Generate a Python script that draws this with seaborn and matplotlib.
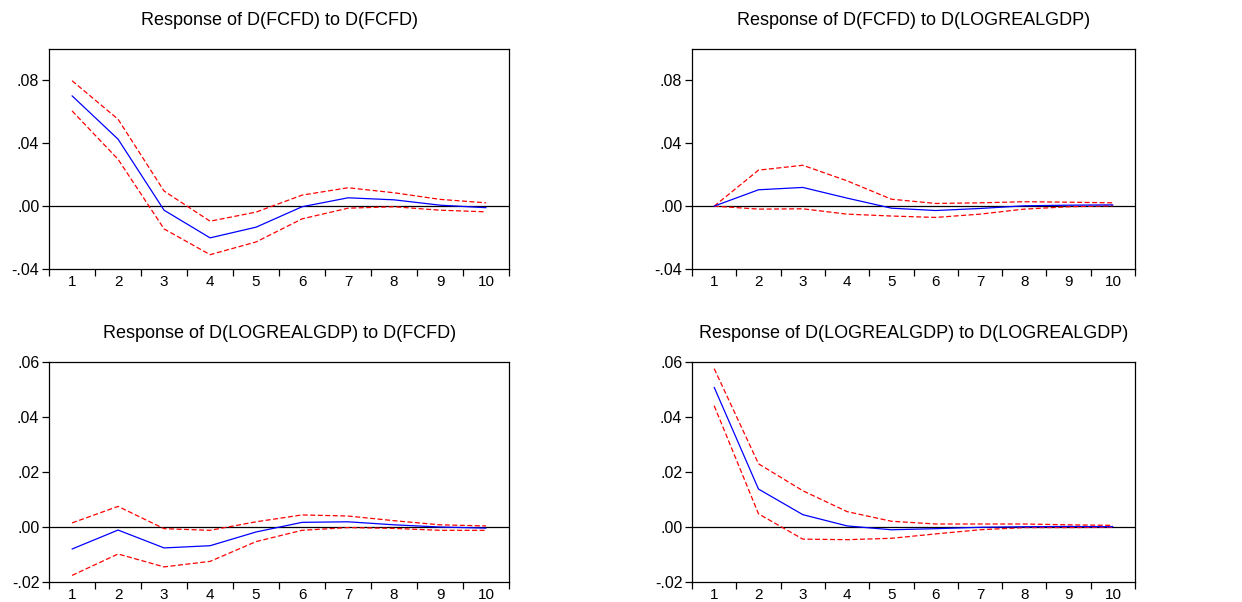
import matplotlib
matplotlib.use("Agg")
import matplotlib.pyplot as plt
import matplotlib.ticker as mticker
import seaborn as sns
import numpy as np
import pandas as pd

# periods
periods = [1, 2, 3, 4, 5, 6, 7, 8, 9, 10]

# Response of D(FCFD) to D(FCFD)
fcfd_fcfd = [0.0702, 0.0426, -0.0026, -0.0202, -0.0134, -0.0004, 0.0053, 0.0040, 0.0006, -0.0010]
fcfd_fcfd_hi = [0.0798, 0.0553, 0.0096, -0.0096, -0.0038, 0.0070, 0.0117, 0.0085, 0.0043, 0.0021]
fcfd_fcfd_lo = [0.0606, 0.0298, -0.0145, -0.0309, -0.0228, -0.0081, -0.0013, -0.0004, -0.0026, -0.0036]

# Response of D(FCFD) to D(LOGREALGDP)
fcfd_gdp = [0.0, 0.0104, 0.0119, 0.0051, -0.0013, -0.0028, -0.0015, 0.0002, 0.0006, 0.0008]
fcfd_gdp_hi = [0.0, 0.0229, 0.0260, 0.0161, 0.0044, 0.0017, 0.0021, 0.0028, 0.0025, 0.0021]
fcfd_gdp_lo = [0.0, -0.0019, -0.0017, -0.0051, -0.0063, -0.0072, -0.0051, -0.0019, -0.0004, 0.0002]

# Response of D(LOGREALGDP) to D(FCFD)
gdp_fcfd = [-0.0080, -0.0011, -0.0076, -0.0068, -0.0018, 0.0017, 0.0019, 0.0008, 0.0000, -0.0004]
gdp_fcfd_hi = [0.0015, 0.0075, -0.0006, -0.0012, 0.0019, 0.0044, 0.0040, 0.0023, 0.0008, 0.0004]
gdp_fcfd_lo = [-0.0176, -0.0098, -0.0145, -0.0125, -0.0053, -0.0012, -0.0002, -0.0005, -0.0012, -0.0012]

# Response of D(LOGREALGDP) to D(LOGREALGDP)
gdp_gdp = [0.0508, 0.0138, 0.0045, 0.0004, -0.0010, -0.0006, -0.0001, 0.0001, 0.0002, 0.0001]
gdp_gdp_hi = [0.0576, 0.0230, 0.0132, 0.0056, 0.0021, 0.0011, 0.0011, 0.0011, 0.0008, 0.0006]
gdp_gdp_lo = [0.0441, 0.0048, -0.0044, -0.0046, -0.0041, -0.0025, -0.0010, -0.0002, -0.0002, -0.0001]

panels = [
    ("Response of D(FCFD) to D(FCFD)", fcfd_fcfd, fcfd_fcfd_hi, fcfd_fcfd_lo, (-0.04, 0.10), [-0.04, 0.0, 0.04, 0.08]),
    ("Response of D(FCFD) to D(LOGREALGDP)", fcfd_gdp, fcfd_gdp_hi, fcfd_gdp_lo, (-0.04, 0.10), [-0.04, 0.0, 0.04, 0.08]),
    ("Response of D(LOGREALGDP) to D(FCFD)", gdp_fcfd, gdp_fcfd_hi, gdp_fcfd_lo, (-0.02, 0.06), [-0.02, 0.0, 0.02, 0.04, 0.06]),
    ("Response of D(LOGREALGDP) to D(LOGREALGDP)", gdp_gdp, gdp_gdp_hi, gdp_gdp_lo, (-0.02, 0.06), [-0.02, 0.0, 0.02, 0.04, 0.06]),
]

sns.set_style("ticks")
plt.rcParams['font.family'] = ['Liberation Sans', 'DejaVu Sans']
plt.rcParams['text.color'] = 'black'
plt.rcParams['xtick.color'] = 'black'
plt.rcParams['ytick.color'] = 'black'
plt.rcParams['xtick.labelcolor'] = 'black'
plt.rcParams['ytick.labelcolor'] = 'black'

fig = plt.figure(figsize=(12.42, 6.02), dpi=100)
positions = [
    [0.0395, 0.5532, 0.3704, 0.3654],
    [0.5572, 0.5532, 0.3567, 0.3654],
    [0.0395, 0.0332, 0.3704, 0.3654],
    [0.5572, 0.0332, 0.3567, 0.3654],
]


def fmt(v, pos):
    s = "%.2f" % v
    if s.startswith("0."):
        s = s[1:]
    elif s.startswith("-0."):
        s = "-" + s[2:]
    return s


for (title, resp, hi, lo, ylim, yticks), pos in zip(panels, positions):
    ax = fig.add_axes(pos)
    df = pd.DataFrame({"period": periods, "resp": resp, "hi": hi, "lo": lo})
    ax.axhline(0, color="black", lw=0.9, zorder=1)
    sns.lineplot(data=df, x="period", y="hi", ax=ax, color="#ff0000", lw=0.9, linestyle=(0, (4, 2)))
    sns.lineplot(data=df, x="period", y="lo", ax=ax, color="#ff0000", lw=0.9, linestyle=(0, (4, 2)))
    sns.lineplot(data=df, x="period", y="resp", ax=ax, color="#0000ff", lw=0.9)
    ax.set_xlim(0.5, 10.5)
    ax.set_ylim(*ylim)
    ax.set_xticks(periods)
    ax.set_xticks(np.arange(0.5, 11, 1), minor=True)
    ax.tick_params(axis="x", which="major", length=0, pad=4, labelsize=11)
    ax.tick_params(axis="x", which="minor", length=5, width=0.9, direction="out")
    ax.set_yticks(yticks)
    ax.yaxis.set_major_formatter(mticker.FuncFormatter(fmt))
    ax.tick_params(axis="y", length=5, width=0.9, direction="out", labelsize=11.5, pad=2)
    ax.set_xlabel("")
    ax.set_ylabel("")
    for sp in ax.spines.values():
        sp.set_visible(True)
        sp.set_color("black")
        sp.set_linewidth(0.9)
    ax.set_title(title, fontsize=13, pad=17, color="black")

fig.savefig("out.png", dpi=100)
